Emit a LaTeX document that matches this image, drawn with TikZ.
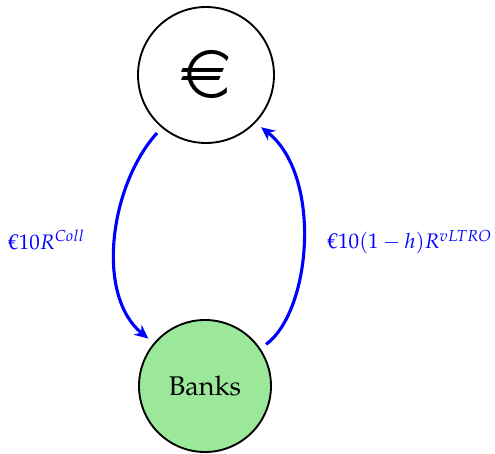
\documentclass[tikz,border=0pt]{standalone}
\usepackage[T1]{fontenc}
\usepackage{mathpazo}
\usepackage{textcomp}
\usepackage{eurosym}
\usetikzlibrary{arrows.meta}
\definecolor{bankgreen}{RGB}{155,232,154}
\tikzset{
  agent/.style={circle, draw=black, line width=0.75pt, inner sep=0pt},
  flow/.style={draw=blue, line width=1.25pt, shorten <=2.8pt, shorten >=2.8pt, -{Stealth[length=5.5pt,width=5pt,inset=1.8pt]}},
  flowlabel/.style={text=blue, font=\fontsize{8.4}{10}\selectfont, inner sep=0pt}
}
\begin{document}
\begin{tikzpicture}[x=0.4pt, y=-0.4pt]
\useasboundingbox (0,0) rectangle (495,454);
\node[agent, minimum size=54.4pt] (euro) at (206,75) {\fontsize{27}{29}\selectfont\euro};
\node[agent, fill=bankgreen, minimum size=52.8pt] (banks) at (205,386) {\fontsize{10.8}{12}\selectfont Banks};
\draw[flow] (euro.230) .. controls (110,185) and (95,295) .. (banks.140);
\draw[flow] (banks.34) .. controls (312,310) and (322,175) .. (euro.316);
\node[flowlabel] (l1) at (47,240) {\texteuro$10R^{Coll}$};
\node[flowlabel] (l2) at (410,242) {\texteuro$10(1-h)R^{vLTRO}$};
\end{tikzpicture}
\end{document}
